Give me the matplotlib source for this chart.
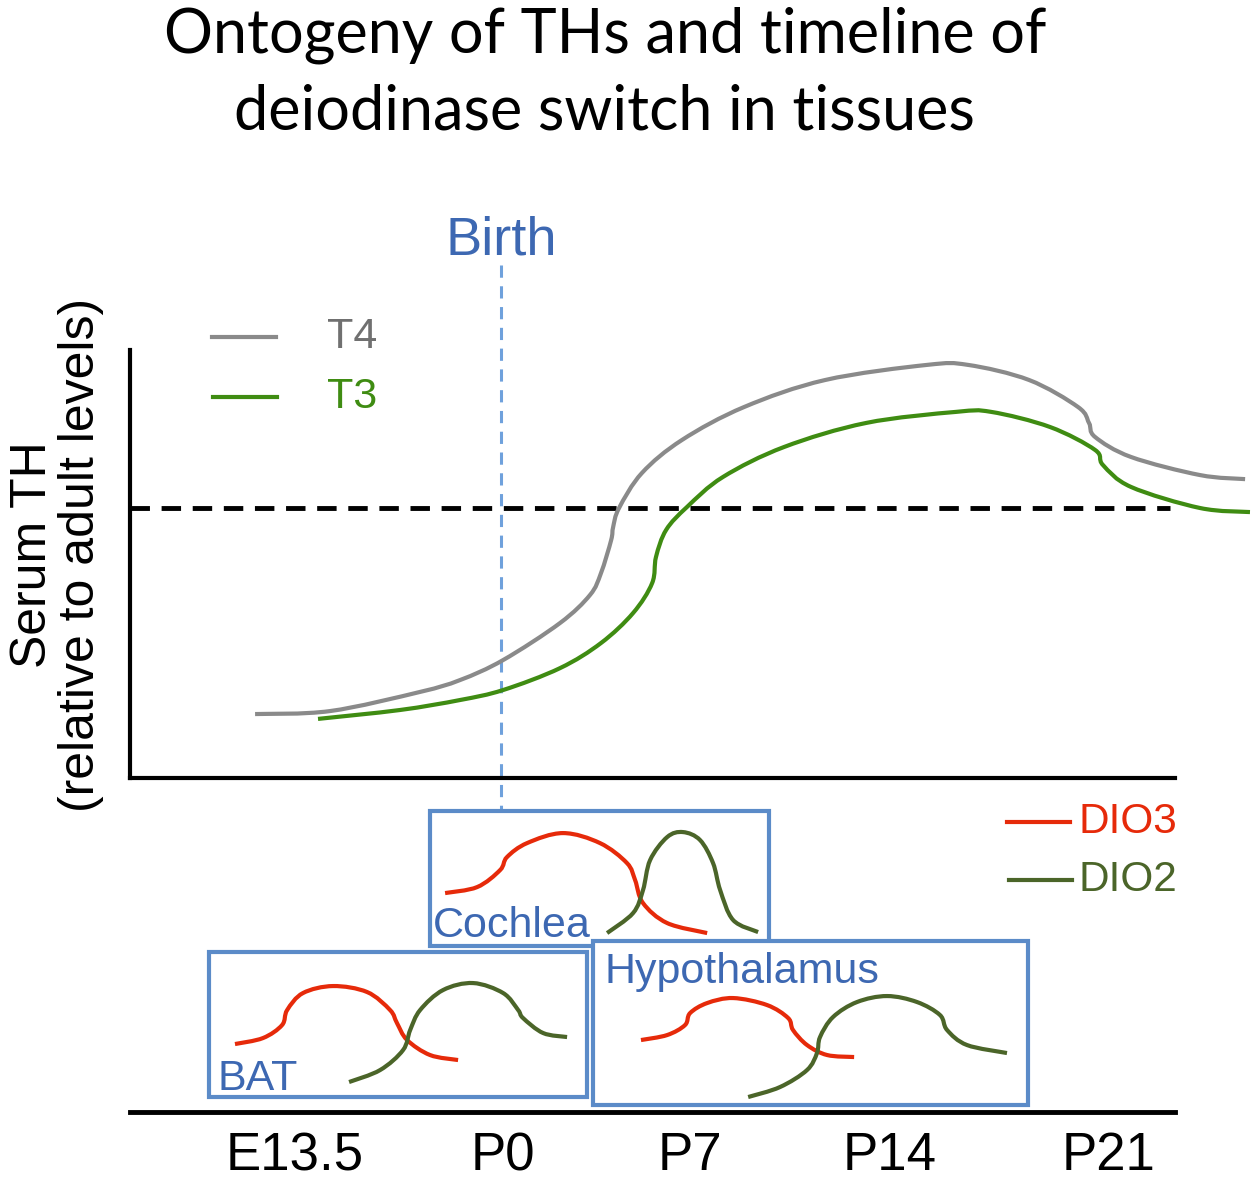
import matplotlib
matplotlib.use("Agg")
import matplotlib.pyplot as plt
import numpy as np
from matplotlib.patches import Rectangle, PathPatch
from matplotlib.path import Path

plt.rcParams["font.family"] = ["Liberation Sans", "DejaVu Sans"]

# x: timeline position (0 = E13.5 ... 4 = P21); y: serum TH relative to adult level
tick_labels = ["E13.5", "P0", "P7", "P14", "P21"]
tick_pos = [0.0, 1.025, 1.946, 2.931, 4.005]
birth_x = 1.015
adult_level = 1.0

t4_x = [-0.197, 0.172, 0.616, 0.813, 1.025, 1.305, 1.453, 1.507, 1.557, 1.567,
        1.596, 1.709, 1.906, 2.212, 2.611, 3.113, 3.315, 3.616, 3.857, 3.911,
        3.941, 4.118, 4.458, 4.680]
t4_y = [0.237, 0.248, 0.319, 0.363, 0.437, 0.574, 0.678, 0.759, 0.881, 0.930,
        1.000, 1.130, 1.252, 1.374, 1.474, 1.530, 1.530, 1.474, 1.374, 1.315,
        1.263, 1.189, 1.122, 1.107]

t3_x = [0.113, 0.517, 0.813, 1.025, 1.305, 1.507, 1.665, 1.759, 1.778, 1.828,
        1.931, 2.108, 2.409, 2.813, 3.256, 3.429, 3.719, 3.941, 3.980, 4.118,
        4.458, 4.704]
t3_y = [0.219, 0.252, 0.289, 0.326, 0.407, 0.500, 0.611, 0.722, 0.819, 0.919,
        1.004, 1.115, 1.226, 1.315, 1.356, 1.356, 1.300, 1.215, 1.159, 1.078,
        1.000, 0.985]

# tissue panels (lower timeline): name, box extent, DIO3 / DIO2 schematic expression
tissues = ["Cochlea", "BAT", "Hypothalamus"]
box_x0 = [0.665, -0.424, 1.468]
box_x1 = [2.335, 1.438, 3.611]
box_y0 = [1.66, 0.15, 0.07]
box_y1 = [3.01, 1.60, 1.71]
label_x = [0.680, -0.384, 1.522]
label_y = [1.75, 0.22, 1.29]

dio3_x = [
    [0.739, 0.897, 1.010, 1.044, 1.143, 1.320, 1.502, 1.635, 1.675, 1.714, 1.833, 2.030],
    [-0.296, -0.158, -0.064, -0.039, 0.039, 0.187, 0.355, 0.468, 0.502, 0.552, 0.665, 0.803],
    [1.704, 1.833, 1.921, 1.946, 2.030, 2.158, 2.325, 2.429, 2.453, 2.522, 2.621, 2.754],
]
dio3_y = [
    [2.19, 2.25, 2.42, 2.55, 2.69, 2.79, 2.69, 2.49, 2.32, 2.09, 1.89, 1.79],
    [0.68, 0.74, 0.87, 1.02, 1.19, 1.26, 1.20, 1.02, 0.89, 0.72, 0.57, 0.52],
    [0.72, 0.77, 0.87, 0.99, 1.09, 1.14, 1.07, 0.94, 0.82, 0.67, 0.57, 0.55],
]
dio2_x = [
    [1.537, 1.665, 1.714, 1.749, 1.833, 1.911, 1.995, 2.059, 2.094, 2.158, 2.281],
    [0.266, 0.419, 0.532, 0.567, 0.616, 0.729, 0.877, 1.025, 1.099, 1.123, 1.222, 1.340],
    [2.232, 2.389, 2.522, 2.571, 2.586, 2.650, 2.768, 2.916, 3.064, 3.177, 3.212, 3.310, 3.507],
]
dio2_y = [
    [1.79, 1.99, 2.22, 2.52, 2.75, 2.80, 2.72, 2.49, 2.22, 1.92, 1.80],
    [0.30, 0.42, 0.62, 0.82, 1.02, 1.22, 1.29, 1.19, 1.02, 0.94, 0.79, 0.75],
    [0.15, 0.25, 0.42, 0.59, 0.75, 0.95, 1.10, 1.16, 1.10, 0.97, 0.82, 0.67, 0.59],
]

C_T4 = "#8a8a8a"
C_T3 = "#3f8c12"
C_DIO3 = "#e62a0a"
C_DIO2 = "#4b6529"
C_BOX = "#5b8bc8"
C_BLUE = "#3d68b2"


def smooth_curve(axis, xs, ys, color, lw=3, zorder=3):
    # draw a smooth (Catmull-Rom as cubic Bezier) path through the points
    p = np.column_stack([xs, ys])
    p = np.vstack([p[0], p, p[-1]])
    verts = [tuple(p[1])]
    codes = [Path.MOVETO]
    for i in range(1, len(p) - 2):
        c1 = p[i] + (p[i + 1] - p[i - 1]) / 6.0
        c2 = p[i + 1] - (p[i + 2] - p[i]) / 6.0
        verts += [tuple(c1), tuple(c2), tuple(p[i + 1])]
        codes += [Path.CURVE4] * 3
    patch = PathPatch(Path(verts, codes), facecolor="none", edgecolor=color,
                      lw=lw, capstyle="butt", clip_on=False, zorder=zorder)
    axis.add_patch(patch)


fig = plt.figure(figsize=(12.6, 11.81), dpi=100)

fig.text(0.48, 0.938, "Ontogeny of THs and timeline of\ndeiodinase switch in tissues",
         ha="center", va="center", fontsize=44, family="Lato", linespacing=1.42)

# ---- serum TH panel
ax = fig.add_axes([0.1032, 0.3412, 0.8294, 0.3624])
ax.set_xlim(-0.813, 4.335)
ax.set_ylim(0, 1.585)
for side in ["top", "right"]:
    ax.spines[side].set_visible(False)
for side in ["left", "bottom"]:
    ax.spines[side].set_linewidth(3)
ax.set_xticks([])
ax.set_yticks([])
ax.patch.set_alpha(0)

ax.axhline(adult_level, xmax=0.995, color="black", lw=3.5, ls=(0, (4, 2.4)))
smooth_curve(ax, t4_x, t4_y, C_T4)
smooth_curve(ax, t3_x, t3_y, C_T3)

ax.plot([birth_x, birth_x], [1.9, -0.122], color="#6fa1dc", lw=2.2,
        ls=(0, (4, 2.8)), clip_on=False)
ax.text(birth_x, 1.99, "Birth", color=C_BLUE, fontsize=39, ha="center", va="center")

ax.plot([-0.409, -0.094], [1.633, 1.633], color=C_T4, lw=3, clip_on=False)
ax.plot([-0.405, -0.090], [1.41, 1.41], color=C_T3, lw=3, clip_on=False)
ax.text(0.158, 1.633, "T4", color="#707070", fontsize=31, va="center", ha="left")
ax.text(0.158, 1.41, "T3", color=C_T3, fontsize=31, va="center", ha="left")

fig.text(0.0455, 0.53, "Serum TH\n(relative to adult levels)", rotation=90,
         ha="center", va="center", fontsize=36, linespacing=1.05,
         multialignment="center")

# ---- tissue timeline panel
tl = fig.add_axes([0.1032, 0.0584, 0.8294, 0.2726])
tl.set_xlim(-0.813, 4.335)
tl.set_ylim(0, 3.22)
for side in ["top", "right", "left"]:
    tl.spines[side].set_visible(False)
tl.spines["bottom"].set_linewidth(3.5)
tl.set_yticks([])
tl.set_xticks(tick_pos)
tl.set_xticklabels(tick_labels, fontsize=38)
tl.tick_params(axis="x", length=0, pad=14)
tl.patch.set_alpha(0)

for i in range(len(tissues)):
    tl.add_patch(Rectangle((box_x0[i], box_y0[i]), box_x1[i] - box_x0[i],
                           box_y1[i] - box_y0[i], facecolor="white",
                           edgecolor=C_BOX, lw=3, clip_on=False, zorder=2 + i))
    smooth_curve(tl, dio3_x[i], dio3_y[i], C_DIO3, zorder=2.5 + i)
    smooth_curve(tl, dio2_x[i], dio2_y[i], C_DIO2, zorder=2.5 + i)
    tl.text(label_x[i], label_y[i], tissues[i], color=C_BLUE, fontsize=31,
            ha="left", va="baseline", zorder=2.6 + i)

tl.plot([3.507, 3.818], [2.90, 2.90], color=C_DIO3, lw=3, clip_on=False)
tl.plot([3.515, 3.826], [2.32, 2.32], color=C_DIO2, lw=3, clip_on=False)
tl.text(3.857, 2.90, "DIO3", color=C_DIO3, fontsize=30.5, va="center", ha="left")
tl.text(3.857, 2.32, "DIO2", color=C_DIO2, fontsize=30.5, va="center", ha="left")

fig.savefig("out.png", dpi=100)
